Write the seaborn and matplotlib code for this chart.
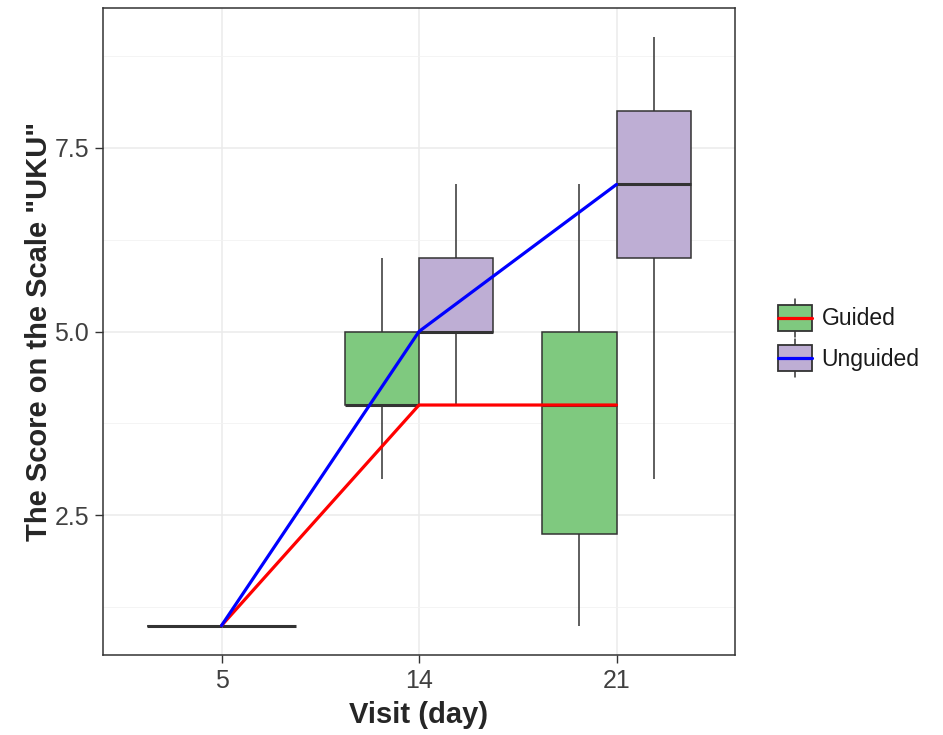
import matplotlib
matplotlib.use("Agg")
import matplotlib.pyplot as plt
from matplotlib.legend_handler import HandlerBase
from matplotlib.patches import Rectangle, Patch
from matplotlib.lines import Line2D
from matplotlib.ticker import MultipleLocator
import pandas as pd
import seaborn as sns

# ---- data (raw scores per visit and group) ----
visits = ["5", "14", "21"]
groups = ["Guided", "Unguided"]
guided_5 = [1, 1, 1, 1, 1, 1]
guided_14 = [3, 4, 4, 4, 4, 5, 5, 6]
guided_21 = [1, 2, 3, 5, 5, 7]
unguided_5 = [1, 1, 1, 1, 1, 1]
unguided_14 = [4, 5, 5, 5, 5, 6, 6, 7]
unguided_21 = [3, 6, 7, 8, 9]

box_colors = {"Guided": "#7FC97F", "Unguided": "#BEAED4"}
line_colors = {"Guided": "#FF0000", "Unguided": "#0000FF"}

rows = []
for g, series in zip(groups, [[guided_5, guided_14, guided_21],
                              [unguided_5, unguided_14, unguided_21]]):
    for v, vals in zip(visits, series):
        for s in vals:
            rows.append({"visit": v, "group": g, "score": s})
df = pd.DataFrame(rows)

sns.set_theme(style="white")
plt.rcParams["font.family"] = ["Liberation Sans", "DejaVu Sans"]

fig = plt.figure(figsize=(9.43, 7.35), dpi=100)
ax = fig.add_axes([103 / 943, 1 - 655 / 735, (735 - 103) / 943, (655 - 8) / 735])

sns.boxplot(data=df, x="visit", y="score", hue="group", order=visits,
            hue_order=groups, palette=box_colors, saturation=1,
            width=0.75, gap=0,
            linecolor="#333333", linewidth=1.1, showcaps=False,
            medianprops={"linewidth": 2.2, "color": "#333333"},
            legend=False, ax=ax, zorder=2)

n_before = len(ax.lines)
sns.pointplot(data=df, x="visit", y="score", hue="group", order=visits,
              hue_order=groups, palette=line_colors, estimator="median",
              errorbar=None, dodge=False, markers="", linewidth=2.3,
              legend=False, ax=ax)
for ln in ax.lines[n_before:]:
    ln.set_zorder(5)

ax.set_xlim(-0.6, 2.6)
ax.set_ylim(0.6, 9.4)
ax.yaxis.set_minor_locator(MultipleLocator(1.25))
ax.set_yticks([2.5, 5.0, 7.5])
ax.set_yticklabels(["2.5", "5.0", "7.5"])
ax.set_axisbelow(True)
ax.grid(which="major", color="#EBEBEB", linewidth=1.1)
ax.grid(which="minor", axis="y", color="#F2F2F2", linewidth=0.6)
ax.tick_params(axis="both", which="major", length=6, width=1.0,
               color="#333333", labelsize=18, labelcolor="#404040",
               direction="out", pad=4, bottom=True, left=True)
ax.tick_params(axis="y", which="minor", length=0)
for sp in ax.spines.values():
    sp.set_color("#333333")
    sp.set_linewidth(1.1)
    sp.set_visible(True)

ax.set_xlabel("Visit (day)", fontsize=21, fontweight="bold", labelpad=6)
ax.set_ylabel('The Score on the Scale "UKU"', fontsize=21,
              fontweight="bold", labelpad=1)


class BoxKeyHandler(HandlerBase):
    def __init__(self, line_color):
        super().__init__()
        self.line_color = line_color

    def create_artists(self, legend, orig_handle, xdescent, ydescent,
                       width, height, fontsize, trans):
        x0, y0 = -xdescent, -ydescent
        cx = x0 + width / 2
        cy = y0 + height / 2
        wh = Line2D([cx, cx], [y0 - 0.15 * height, y0 + height * 1.15],
                    color="#333333", lw=1.1, transform=trans)
        rect = Rectangle((x0, y0 + 0.05 * height), width, 0.9 * height,
                         facecolor=orig_handle.get_facecolor(),
                         edgecolor="#333333", lw=1.3, transform=trans)
        med = Line2D([x0, x0 + width], [cy, cy], color=self.line_color,
                     lw=2.3, transform=trans)
        return [wh, rect, med]


handles = [Patch(facecolor=box_colors[g], label=g) for g in groups]
handler_map = {h: BoxKeyHandler(line_colors[g]) for h, g in zip(handles, groups)}
fig.legend(handles=handles, labels=groups, handler_map=handler_map,
           loc="center left", bbox_to_anchor=(778 / 943, 1 - 338 / 735),
           frameon=False, fontsize=16.5, handlelength=1.5, handleheight=1.55,
           handletextpad=0.4, labelspacing=0.5, borderpad=0,
           borderaxespad=0, labelcolor="#1A1A1A")

fig.savefig("out.png", dpi=100)
